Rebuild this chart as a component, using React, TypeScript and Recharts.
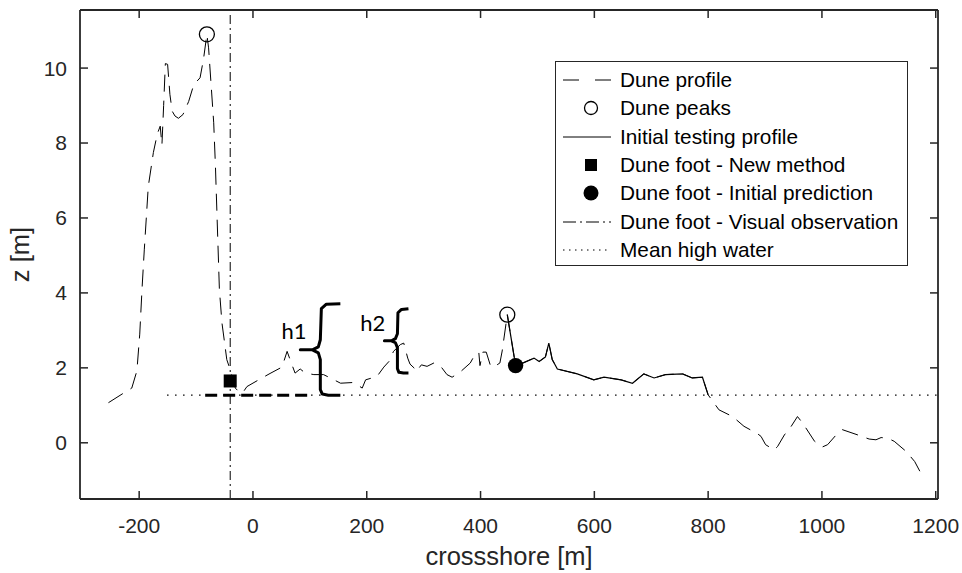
import React from 'react';
import {
  ComposedChart,
  Line,
  Scatter,
  XAxis,
  YAxis,
  ReferenceLine,
  ReferenceDot,
  Legend,
} from 'recharts';

// crossshore positions [m] and elevations [m] of the measured dune profile
const profileX = [
  -254, -228, -213, -204, -199, -195, -191, -184, -175, -168, -163, -160, -157, -154, -150, -146,
  -142, -137, -131, -123, -113, -104, -93, -87, -81, -78, -74, -69, -66, -59, -54.5, -46, -40, -31,
  -22, -16, -10.6, 10, 30, 51, 60, 68.6, 74, 83, 92, 107, 124, 136, 154, 177, 192, 198, 218, 230,
  239, 247, 259, 265, 272, 276, 283, 287, 296, 306, 318, 330, 341, 350, 365, 382, 391, 397, 399,
  404, 410, 418, 426, 434, 438, 447, 461.6, 476, 494, 503, 514, 520, 526, 535, 570, 599, 617, 647,
  667, 687, 705, 725, 755, 772, 790, 800, 819, 843, 863, 887, 893, 901, 916, 922, 934, 946, 957,
  966, 987, 1001, 1010, 1025, 1036, 1063, 1083, 1095, 1104, 1116, 1127, 1148, 1163, 1177,
];
const profileZ = [
  1.07, 1.32, 1.46, 1.92, 2.9, 4.1, 5.15, 6.84, 7.75, 8.25, 8.45, 7.95, 9.0, 10.12, 10.1, 9.3,
  8.85, 8.72, 8.66, 8.76, 9.11, 9.56, 9.74, 10.23, 10.9, 10.54, 9.65, 8.54, 7.4, 4.09, 3.2, 2.22,
  1.95, 1.46, 1.32, 1.38, 1.5, 1.68, 1.85, 2.02, 2.44, 2.08, 1.86, 1.97, 1.86, 1.82, 1.82, 1.73,
  1.59, 1.61, 1.46, 1.68, 1.77, 2.02, 2.17, 2.44, 2.62, 2.66, 2.26, 2.1, 2.0, 1.9, 2.08, 2.04, 2.13,
  2.04, 1.82, 1.75, 1.9, 2.13, 2.38, 2.4, 2.06, 2.42, 2.42, 2.03, 2.05, 2.13, 2.45, 3.42, 2.06,
  2.14, 2.26, 2.17, 2.29, 2.66, 2.22, 1.97, 1.84, 1.68, 1.75, 1.68, 1.59, 1.84, 1.73, 1.82, 1.84,
  1.73, 1.75, 1.28, 0.88, 0.7, 0.44, 0.24, 0.17, -0.05, -0.19, -0.1, 0.21, 0.44, 0.7, 0.53, 0.04,
  -0.11, -0.05, 0.21, 0.35, 0.21, 0.1, 0.08, 0.14, 0.12, 0.04, -0.23, -0.5, -0.9,
];

// initial testing profile: from the seaward dune peak to the MHW crossing
const testStartX = 447;
const testEndX = 800;

const peakX = [-81, 447];
const peakZ = [10.9, 3.42];

const newFootX = [-40];
const newFootZ = [1.65];

const initFootX = [461.6];
const initFootZ = [2.06];

const visualFootX = -40;

const mhwZ = 1.27;
const mhwX = [-151, 1204];

// thick segment marking the h1 base
const baseX = [-84, 101];

// brace outlines (h1 and h2)
const braceH1X = [153.6, 129, 120.2, 118.4, 114.9, 104.4, 83.2, 104.4, 114.9, 118.4, 118.4, 121.9, 132.5, 153.6];
const braceH1Z = [3.71, 3.7, 3.58, 2.75, 2.56, 2.48, 2.48, 2.48, 2.4, 2.22, 1.42, 1.3, 1.27, 1.27];
const braceH2X = [273.3, 261, 254.8, 253.9, 250.4, 243.4, 231, 243.4, 250.4, 253.9, 253.9, 256.5, 264.5, 273.3];
const braceH2Z = [3.58, 3.56, 3.47, 2.91, 2.78, 2.72, 2.72, 2.72, 2.67, 2.54, 1.98, 1.88, 1.86, 1.86];

const h1Label = { x: 72, z: 2.98 };
const h2Label = { x: 210.5, z: 3.2 };

const xTicks = [-200, 0, 200, 400, 600, 800, 1000, 1200];
const zTicks = [0, 2, 4, 6, 8, 10];
const xDomain = [-304, 1204];
const zDomain = [-1.5, 11.55];

const zip = (xs: number[], zs: number[]) => xs.map((x, i) => ({ x, z: zs[i] }));

const profile = zip(profileX, profileZ);
const testing = profile.filter((p) => p.x >= testStartX && p.x <= testEndX);
const peaks = zip(peakX, peakZ);
const newFoot = zip(newFootX, newFootZ);
const initFoot = zip(initFootX, initFootZ);
const mhw = mhwX.map((x) => ({ x, z: mhwZ }));
const base = baseX.map((x) => ({ x, z: mhwZ }));
const braceH1 = zip(braceH1X, braceH1Z);
const braceH2 = zip(braceH2X, braceH2Z);

const AXIS = '#262626';

const legendRows = [
  { name: 'Dune profile', icon: 'dash' },
  { name: 'Dune peaks', icon: 'open' },
  { name: 'Initial testing profile', icon: 'solid' },
  { name: 'Dune foot - New method', icon: 'square' },
  { name: 'Dune foot - Initial prediction', icon: 'dot' },
  { name: 'Dune foot - Visual observation', icon: 'dashdot' },
  { name: 'Mean high water', icon: 'dotted' },
];

const LegendIcon = ({ icon }: { icon: string }) => {
  const line = (dash?: string) => (
    <line x1={7} x2={55} y1={14} y2={14} stroke="#000" strokeWidth={1} strokeDasharray={dash} />
  );
  switch (icon) {
    case 'dash':
      return line('16 16');
    case 'solid':
      return line();
    case 'dashdot':
      return line('13 4 2 4');
    case 'dotted':
      return line('1.5 4.5');
    case 'open':
      return <circle cx={35} cy={14} r={6.5} fill="none" stroke="#000" strokeWidth={1.3} />;
    case 'square':
      return <rect x={29} y={8} width={12} height={12} fill="#000" />;
    default:
      return <circle cx={35} cy={14} r={7.5} fill="#000" />;
  }
};

const LegendBox = () => (
  <div
    style={{
      width: 353,
      height: 205,
      boxSizing: 'border-box',
      border: '1px solid #262626',
      background: '#fff',
      paddingTop: 4,
    }}
  >
    {legendRows.map((r) => (
      <div key={r.name} style={{ display: 'flex', alignItems: 'center', height: 28.3 }}>
        <svg width={60} height={28} style={{ flex: 'none' }}>
          <LegendIcon icon={r.icon} />
        </svg>
        <span style={{ marginLeft: 4, fontSize: 20.8, color: '#000', whiteSpace: 'nowrap' }}>{r.name}</span>
      </div>
    ))}
  </div>
);

const openCircle = (p: any) => (
  <circle cx={p.cx} cy={p.cy} r={7.5} fill="none" stroke="#000" strokeWidth={1.3} />
);
const filledSquare = (p: any) => <rect x={p.cx - 6.5} y={p.cy - 6.5} width={13} height={13} fill="#000" />;
const filledCircle = (p: any) => <circle cx={p.cx} cy={p.cy} r={7.7} fill="#000" />;

export default function App() {
  return (
    <div
      style={{
        position: 'absolute',
        left: 0,
        top: 0,
        width: 962,
        height: 573,
        background: '#fff',
        fontFamily: '"Liberation Sans", Arial, sans-serif',
      }}
    >
      <ComposedChart width={962} height={573} margin={{ top: 9, right: 23, bottom: 0, left: 0 }}>
        <XAxis
          dataKey="x"
          type="number"
          domain={xDomain}
          allowDataOverflow
          ticks={xTicks}
          interval={0}
          height={74}
          tickSize={-8}
          tickMargin={27}
          axisLine={{ stroke: AXIS, strokeWidth: 1.8 }}
          tickLine={{ stroke: AXIS, strokeWidth: 1.5 }}
          tick={{ fill: AXIS, fontSize: 21 }}
          label={{ value: 'crossshore [m]', position: 'insideBottom', offset: 8, fill: AXIS, fontSize: 25.5 }}
        />
        <XAxis
          xAxisId="top"
          orientation="top"
          dataKey="x"
          type="number"
          domain={xDomain}
          allowDataOverflow
          ticks={xTicks}
          interval={0}
          height={1}
          tickSize={-8}
          tickFormatter={() => ''}
          axisLine={{ stroke: AXIS, strokeWidth: 1.8 }}
          tickLine={{ stroke: AXIS, strokeWidth: 1.5 }}
        />
        <YAxis
          dataKey="z"
          type="number"
          domain={zDomain}
          allowDataOverflow
          ticks={zTicks}
          interval={0}
          width={80}
          tickSize={-8}
          tickMargin={21}
          axisLine={{ stroke: AXIS, strokeWidth: 1.8 }}
          tickLine={{ stroke: AXIS, strokeWidth: 1.5 }}
          tick={{ fill: AXIS, fontSize: 21 }}
          label={{
            value: 'z [m]',
            angle: -90,
            position: 'insideLeft',
            offset: 20,
            fill: AXIS,
            fontSize: 25.5,
            style: { textAnchor: 'middle' },
          }}
        />
        <YAxis
          yAxisId="right"
          orientation="right"
          type="number"
          domain={zDomain}
          allowDataOverflow
          ticks={zTicks}
          interval={0}
          width={1}
          tickSize={-8}
          tickFormatter={() => ''}
          axisLine={{ stroke: AXIS, strokeWidth: 1.8 }}
          tickLine={{ stroke: AXIS, strokeWidth: 1.5 }}
        />

        <Line
          data={mhw}
          dataKey="z"
          type="linear"
          stroke="#000"
          strokeWidth={1.2}
          strokeDasharray="1.5 6.5"
          dot={false}
          isAnimationActive={false}
        />
        <Line
          data={base}
          dataKey="z"
          type="linear"
          stroke="#000"
          strokeWidth={3}
          strokeDasharray="12 6"
          dot={false}
          isAnimationActive={false}
        />
        <ReferenceLine x={visualFootX} stroke="#000" strokeWidth={1} strokeDasharray="9 4 2 4" />
        <Line
          data={profile}
          dataKey="z"
          type="linear"
          stroke="#000"
          strokeWidth={1}
          strokeDasharray="17 9"
          dot={false}
          isAnimationActive={false}
        />
        <Line
          data={testing}
          dataKey="z"
          type="linear"
          stroke="#000"
          strokeWidth={1.2}
          dot={false}
          isAnimationActive={false}
        />
        <Line
          data={braceH1}
          dataKey="z"
          type="linear"
          stroke="#000"
          strokeWidth={3}
          strokeLinejoin="round"
          dot={false}
          isAnimationActive={false}
        />
        <Line
          data={braceH2}
          dataKey="z"
          type="linear"
          stroke="#000"
          strokeWidth={3}
          strokeLinejoin="round"
          dot={false}
          isAnimationActive={false}
        />
        <Scatter data={peaks} dataKey="z" shape={openCircle} isAnimationActive={false} />
        <Scatter data={newFoot} dataKey="z" shape={filledSquare} isAnimationActive={false} />
        <Scatter data={initFoot} dataKey="z" shape={filledCircle} isAnimationActive={false} />
        <ReferenceDot
          x={h1Label.x}
          y={h1Label.z}
          r={0}
          fill="none"
          stroke="none"
          label={{ value: 'h1', position: 'center', fontSize: 22, fontFamily: 'Lato', fill: '#000' }}
        />
        <ReferenceDot
          x={h2Label.x}
          y={h2Label.z}
          r={0}
          fill="none"
          stroke="none"
          label={{ value: 'h2', position: 'center', fontSize: 22, fontFamily: 'Lato', fill: '#000' }}
        />
        <Legend
          layout="vertical"
          align="center"
          verticalAlign="middle"
          wrapperStyle={{ left: 555, top: 61, width: 353, height: 205 }}
          content={() => <LegendBox />}
        />
      </ComposedChart>
    </div>
  );
}
